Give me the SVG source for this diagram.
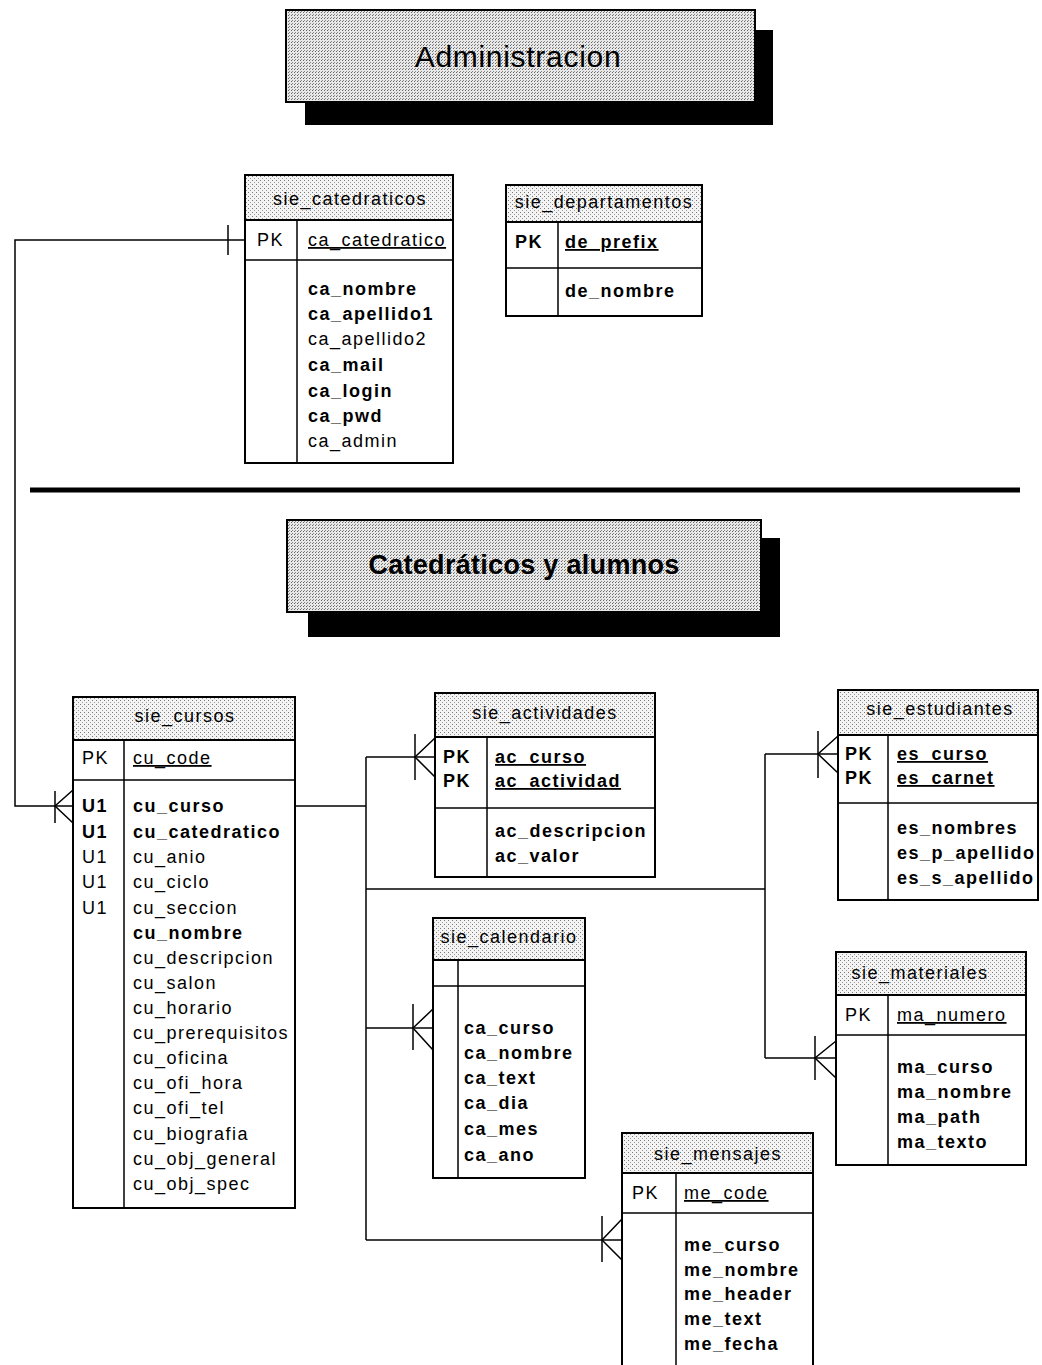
<svg xmlns="http://www.w3.org/2000/svg" width="1042" height="1365" viewBox="0 0 1042 1365">
<defs>
<pattern id="ht" width="4" height="4" patternUnits="userSpaceOnUse"><rect width="4" height="4" fill="#f4f4f4"/><rect x="0" y="0" width="1" height="1" fill="#777"/><rect x="2" y="2" width="1" height="1" fill="#999"/></pattern>
<pattern id="ht2" width="3" height="3" patternUnits="userSpaceOnUse"><rect width="3" height="3" fill="#e8e8e8"/><rect x="0" y="0" width="1" height="1" fill="#666"/><rect x="1" y="2" width="1" height="1" fill="#888"/></pattern>
<style>
text{font-family:"Liberation Sans",Arial,sans-serif;font-size:18px;letter-spacing:1.5px;fill:#000}
.b{font-weight:bold}
.u{text-decoration:underline}
.h{text-anchor:middle}
.box{fill:#fff;stroke:#000;stroke-width:2}
.hd{fill:url(#ht);stroke:#000;stroke-width:2}
.ln{stroke:#000;stroke-width:1.5;fill:none}
.cn{stroke:#000;stroke-width:1.5;fill:none}
</style>
</defs>
<rect width="1042" height="1365" fill="#fff"/>

<g id="title-admin">
<rect x="305" y="30" width="468" height="95" fill="#000"/>
<rect x="286" y="10" width="469" height="92" fill="url(#ht2)" stroke="#000" stroke-width="2"/>
<text x="518" y="67" class="h" style="font-size:30px;letter-spacing:0.7px">Administracion</text>
</g>

<g id="separator"><line x1="30" y1="490" x2="1020" y2="490" stroke="#000" stroke-width="5"/></g>

<g id="title-cat">
<rect x="308" y="538" width="472" height="99" fill="#000"/>
<rect x="287" y="520" width="474" height="92" fill="url(#ht2)" stroke="#000" stroke-width="2"/>
<text x="524" y="574" class="h b" style="font-size:27px;letter-spacing:0.3px">Catedráticos y alumnos</text>
</g>

<g id="sie_catedraticos">
<rect x="245" y="175" width="208" height="288" class="box"/>
<rect x="245" y="175" width="208" height="45" class="hd"/>
<line x1="245" y1="260" x2="453" y2="260" class="ln"/>
<line x1="297" y1="220" x2="297" y2="463" class="ln"/>
<text x="350" y="205" class="h">sie_catedraticos</text>
<text x="257" y="246">PK</text>
<text x="308" y="246" class="u">ca_catedratico</text>
<text x="308" y="295" class="b">ca_nombre</text>
<text x="308" y="320" class="b">ca_apellido1</text>
<text x="308" y="345">ca_apellido2</text>
<text x="308" y="371" class="b">ca_mail</text>
<text x="308" y="397" class="b">ca_login</text>
<text x="308" y="422" class="b">ca_pwd</text>
<text x="308" y="447">ca_admin</text>
</g>

<g id="sie_departamentos">
<rect x="506" y="185" width="196" height="131" class="box"/>
<rect x="506" y="185" width="196" height="37" class="hd"/>
<line x1="506" y1="268" x2="702" y2="268" class="ln"/>
<line x1="558" y1="222" x2="558" y2="316" class="ln"/>
<text x="604" y="208" class="h">sie_departamentos</text>
<text x="515" y="248" class="b">PK</text>
<text x="565" y="248" class="b u">de_prefix</text>
<text x="565" y="297" class="b">de_nombre</text>
</g>

<g id="sie_cursos">
<rect x="73" y="697" width="222" height="511" class="box"/>
<rect x="73" y="697" width="222" height="43" class="hd"/>
<line x1="73" y1="780" x2="295" y2="780" class="ln"/>
<line x1="124" y1="740" x2="124" y2="1208" class="ln"/>
<text x="185" y="722" class="h">sie_cursos</text>
<text x="82" y="764">PK</text>
<text x="133" y="764" class="u">cu_code</text>
<text x="82" y="812" class="b">U1</text>
<text x="82" y="838" class="b">U1</text>
<text x="82" y="863">U1</text>
<text x="82" y="888">U1</text>
<text x="82" y="914">U1</text>
<text x="133" y="812" class="b">cu_curso</text>
<text x="133" y="838" class="b">cu_catedratico</text>
<text x="133" y="863">cu_anio</text>
<text x="133" y="888">cu_ciclo</text>
<text x="133" y="914">cu_seccion</text>
<text x="133" y="939" class="b">cu_nombre</text>
<text x="133" y="964">cu_descripcion</text>
<text x="133" y="989">cu_salon</text>
<text x="133" y="1014">cu_horario</text>
<text x="133" y="1039">cu_prerequisitos</text>
<text x="133" y="1064">cu_oficina</text>
<text x="133" y="1089">cu_ofi_hora</text>
<text x="133" y="1114">cu_ofi_tel</text>
<text x="133" y="1140">cu_biografia</text>
<text x="133" y="1165">cu_obj_general</text>
<text x="133" y="1190">cu_obj_spec</text>
</g>

<g id="sie_actividades">
<rect x="435" y="693" width="220" height="184" class="box"/>
<rect x="435" y="693" width="220" height="44" class="hd"/>
<line x1="435" y1="808" x2="655" y2="808" class="ln"/>
<line x1="487" y1="737" x2="487" y2="877" class="ln"/>
<text x="545" y="719" class="h">sie_actividades</text>
<text x="443" y="763" class="b">PK</text>
<text x="443" y="787" class="b">PK</text>
<text x="495" y="763" class="b u">ac_curso</text>
<text x="495" y="787" class="b u">ac_actividad</text>
<text x="495" y="837" class="b">ac_descripcion</text>
<text x="495" y="862" class="b">ac_valor</text>
</g>

<g id="sie_estudiantes">
<rect x="838" y="690" width="200" height="210" class="box"/>
<rect x="838" y="690" width="200" height="45" class="hd"/>
<line x1="838" y1="803" x2="1038" y2="803" class="ln"/>
<line x1="888" y1="735" x2="888" y2="900" class="ln"/>
<text x="940" y="715" class="h">sie_estudiantes</text>
<text x="845" y="760" class="b">PK</text>
<text x="845" y="784" class="b">PK</text>
<text x="897" y="760" class="b u">es_curso</text>
<text x="897" y="784" class="b u">es_carnet</text>
<text x="897" y="834" class="b">es_nombres</text>
<text x="897" y="859" class="b">es_p_apellido</text>
<text x="897" y="884" class="b">es_s_apellido</text>
</g>

<g id="sie_calendario">
<rect x="433" y="918" width="152" height="260" class="box"/>
<rect x="433" y="918" width="152" height="42" class="hd"/>
<line x1="433" y1="986" x2="585" y2="986" class="ln"/>
<line x1="458" y1="960" x2="458" y2="1178" class="ln"/>
<text x="509" y="943" class="h">sie_calendario</text>
<text x="464" y="1034" class="b">ca_curso</text>
<text x="464" y="1059" class="b">ca_nombre</text>
<text x="464" y="1084" class="b">ca_text</text>
<text x="464" y="1109" class="b">ca_dia</text>
<text x="464" y="1135" class="b">ca_mes</text>
<text x="464" y="1161" class="b">ca_ano</text>
</g>

<g id="sie_materiales">
<rect x="836" y="952" width="190" height="213" class="box"/>
<rect x="836" y="952" width="190" height="43" class="hd"/>
<line x1="836" y1="1035" x2="1026" y2="1035" class="ln"/>
<line x1="888" y1="995" x2="888" y2="1165" class="ln"/>
<text x="920" y="979" class="h">sie_materiales</text>
<text x="845" y="1021">PK</text>
<text x="897" y="1021" class="u">ma_numero</text>
<text x="897" y="1073" class="b">ma_curso</text>
<text x="897" y="1098" class="b">ma_nombre</text>
<text x="897" y="1123" class="b">ma_path</text>
<text x="897" y="1148" class="b">ma_texto</text>
</g>

<g id="sie_mensajes">
<rect x="622" y="1133" width="191" height="245" class="box"/>
<rect x="622" y="1133" width="191" height="40" class="hd"/>
<line x1="622" y1="1213" x2="813" y2="1213" class="ln"/>
<line x1="676" y1="1173" x2="676" y2="1378" class="ln"/>
<text x="718" y="1160" class="h">sie_mensajes</text>
<text x="632" y="1199">PK</text>
<text x="684" y="1199" class="u">me_code</text>
<text x="684" y="1251" class="b">me_curso</text>
<text x="684" y="1276" class="b">me_nombre</text>
<text x="684" y="1300" class="b">me_header</text>
<text x="684" y="1325" class="b">me_text</text>
<text x="684" y="1350" class="b">me_fecha</text>
</g>

<g id="connectors">
<!-- catedraticos to cursos -->
<polyline points="245,240 15,240 15,806 73,806" class="cn"/>
<line x1="228" y1="225" x2="228" y2="255" class="cn"/>
<line x1="55" y1="791" x2="55" y2="823" class="cn"/>
<polyline points="73,790 55,806 73,823" class="cn"/>
<!-- cursos trunk -->
<line x1="295" y1="806" x2="366" y2="806" class="cn"/>
<line x1="366" y1="757" x2="366" y2="1240" class="cn"/>
<!-- actividades -->
<line x1="366" y1="757" x2="435" y2="757" class="cn"/>
<line x1="415" y1="734" x2="415" y2="780" class="cn"/>
<polyline points="435,738 415,757 435,777" class="cn"/>
<!-- to estudiantes / materiales -->
<line x1="366" y1="889" x2="765" y2="889" class="cn"/>
<line x1="765" y1="754" x2="765" y2="1058" class="cn"/>
<line x1="765" y1="754" x2="838" y2="754" class="cn"/>
<line x1="818" y1="731" x2="818" y2="778" class="cn"/>
<polyline points="838,736 818,754 838,773" class="cn"/>
<line x1="765" y1="1058" x2="836" y2="1058" class="cn"/>
<line x1="815" y1="1036" x2="815" y2="1080" class="cn"/>
<polyline points="836,1041 815,1058 836,1078" class="cn"/>
<!-- calendario -->
<line x1="366" y1="1028" x2="433" y2="1028" class="cn"/>
<line x1="413" y1="1004" x2="413" y2="1050" class="cn"/>
<polyline points="433,1009 413,1028 433,1050" class="cn"/>
<!-- mensajes -->
<line x1="366" y1="1240" x2="622" y2="1240" class="cn"/>
<line x1="602" y1="1216" x2="602" y2="1262" class="cn"/>
<polyline points="622,1219 602,1240 622,1260" class="cn"/>
</g>
</svg>
